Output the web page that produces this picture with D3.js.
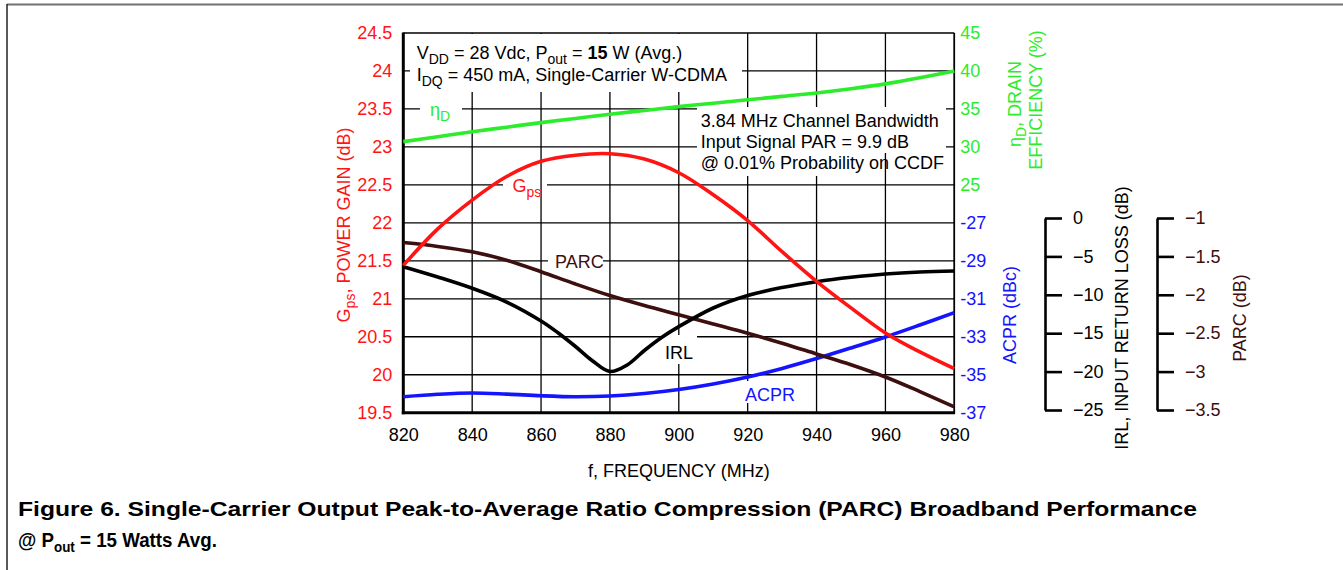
<!DOCTYPE html>
<html><head><meta charset="utf-8">
<script src="https://cdn.jsdelivr.net/npm/d3@7"></script>
<style>
body{margin:0;background:#fff;}
svg{display:block;}
</style></head><body>
<svg id="c" width="1343" height="570"></svg>
<script>
// ---------- data ----------
const freq = [820,830,840,850,860,870,880,890,900,910,920,930,940,950,960,970,980];
const gain = [21.44,21.92,22.30,22.61,22.81,22.89,22.91,22.84,22.66,22.37,22.03,21.62,21.23,20.88,20.55,20.30,20.08];
const eff  = [30.7,31.35,32.0,32.6,33.2,33.75,34.3,34.8,35.3,35.75,36.2,36.65,37.1,37.65,38.3,39.1,40.0];
const acpr = [-36.16,-36.03,-35.96,-36.02,-36.11,-36.16,-36.12,-35.99,-35.78,-35.49,-35.12,-34.67,-34.15,-33.59,-33.01,-32.38,-31.73];
const parc = [-1.32,-1.37,-1.44,-1.55,-1.70,-1.86,-2.01,-2.14,-2.26,-2.38,-2.50,-2.63,-2.77,-2.91,-3.07,-3.26,-3.46];
const irlFreq = [820,830,840,850,860,865,870,875,880,885,890,895,900,910,920,930,940,950,960,970,980];
const irl  = [-6.34,-7.68,-9.15,-10.94,-13.41,-14.97,-16.73,-18.62,-19.99,-19.14,-17.25,-15.56,-14.15,-11.72,-10.09,-9.05,-8.29,-7.72,-7.29,-7.03,-6.90];

const freqTicks = [820,840,860,880,900,920,940,960,980];
const gainTicks = [19.5,20,20.5,21,21.5,22,22.5,23,23.5,24,24.5];
const effTicks  = [25,30,35,40,45];
const acprTicks = [-37,-35,-33,-31,-29,-27];
const irlTicks  = [-25,-20,-15,-10,-5,0];
const parcTicks = [-3.5,-3,-2.5,-2,-1.5,-1];

// ---------- style ----------
const FONT = '"Liberation Sans", Arial, Helvetica, sans-serif';
const FS = 18;
const RED = "#ff1414", GREEN = "#2cec2c", BLUE = "#1414ff", BROWN = "#3d0f0f", BLACK = "#000";

const L = 403.3, R = 954.3, T = 33, B = 412.7;
const x    = d3.scaleLinear().domain([820,980]).range([L,R]);
const yG   = d3.scaleLinear().domain([19.5,24.5]).range([B,T]);
const yE   = d3.scaleLinear().domain([-5,45]).range([B,T]);
const yA   = d3.scaleLinear().domain([-37,-17]).range([B,T]);
const yI   = d3.scaleLinear().domain([-25,0]).range([410,218]);
const yP   = d3.scaleLinear().domain([-3.5,-1]).range([410,218]);

const svg = d3.select("#c").attr("font-family", FONT).attr("font-size", FS);

// frame
svg.append("line").attr("x1",7).attr("x2",1343).attr("y1",4.5).attr("y2",4.5).attr("stroke","#707070").attr("stroke-width",2);
svg.append("line").attr("x1",7).attr("x2",7).attr("y1",4).attr("y2",570).attr("stroke","#222").attr("stroke-width",1.5);

// horizontal grid
svg.append("g").selectAll("line").data(gainTicks).join("line")
  .attr("x1",L).attr("x2",R).attr("y1",d=>yG(d)).attr("y2",d=>yG(d))
  .attr("stroke",BLACK).attr("stroke-width",1.3);

// label gaps on horizontal lines only
const gapStrips = [[420,462,yG(23.5)],[503,547,yG(22.5)],[548,603,yG(21.5)]];
svg.append("g").selectAll("rect").data(gapStrips).join("rect")
  .attr("x",d=>d[0]).attr("width",d=>d[1]-d[0]).attr("y",d=>d[2]-3).attr("height",6).attr("fill","#fff");

// vertical grid
svg.append("g").selectAll("line").data(freqTicks).join("line")
  .attr("x1",d=>x(d)).attr("x2",d=>x(d)).attr("y1",T).attr("y2",B)
  .attr("stroke",BLACK).attr("stroke-width",1.3);

// full white boxes
const boxes = [[410,34,332,58],[697,107,249,69],[664,335,33,29],[743,381,54,22]];
svg.append("g").selectAll("rect").data(boxes).join("rect")
  .attr("x",d=>d[0]).attr("y",d=>d[1]).attr("width",d=>d[2]).attr("height",d=>d[3]).attr("fill","#fff");
// small piece of the 960 grid line visible in the box
svg.append("line").attr("x1",x(960)).attr("x2",x(960)).attr("y1",153).attr("y2",176).attr("stroke",BLACK).attr("stroke-width",1.3);

// plot borders
svg.append("line").attr("x1",R).attr("x2",R).attr("y1",T).attr("y2",B).attr("stroke",BLACK).attr("stroke-width",1.6);
svg.append("line").attr("x1",L).attr("x2",L).attr("y1",T-0.5).attr("y2",B+1.5).attr("stroke",BLACK).attr("stroke-width",3);
svg.append("line").attr("x1",L-1.5).attr("x2",R+0.8).attr("y1",B).attr("y2",B).attr("stroke",BLACK).attr("stroke-width",3);

// curves
function curve(xs, ys, yScale, color){
  const pts = xs.map((f,i)=>[f, ys[i]]);
  svg.append("path").datum(pts)
    .attr("d", d3.line().x(d=>x(d[0])).y(d=>yScale(d[1])).curve(d3.curveCatmullRom.alpha(0.5)))
    .attr("fill","none").attr("stroke",color).attr("stroke-width",3.6).attr("stroke-linejoin","round");
}
curve(freq, acpr, yA, BLUE);
curve(freq, parc, yP, BROWN);
curve(irlFreq, irl, yI, BLACK);
curve(freq, gain, yG, RED);
curve(freq, eff, yE, GREEN);

// axes
function styleAxis(g, color){
  g.select(".domain").remove();
  g.attr("font-family",FONT).attr("font-size",FS);
  g.selectAll("text").attr("fill",color);
}
svg.append("g").attr("transform",`translate(${L},0)`)
  .call(d3.axisLeft(yG).tickValues(gainTicks).tickSize(0).tickPadding(11).tickFormat(d=>String(d)))
  .call(g=>styleAxis(g,RED));
svg.append("g").attr("transform",`translate(0,${B})`)
  .call(d3.axisBottom(x).tickValues(freqTicks).tickSize(0).tickPadding(16).tickFormat(d=>String(d)))
  .call(g=>styleAxis(g,BLACK));
svg.append("g").attr("transform",`translate(${R},0)`)
  .call(d3.axisRight(yE).tickValues(effTicks).tickSize(0).tickPadding(6).tickFormat(d=>String(d)))
  .call(g=>styleAxis(g,GREEN));
svg.append("g").attr("transform",`translate(${R},0)`)
  .call(d3.axisRight(yA).tickValues(acprTicks).tickSize(0).tickPadding(6).tickFormat(d=>String(d)))
  .call(g=>styleAxis(g,BLUE));

function bracket(xpos, scale, ticks, color, fmt){
  const g = svg.append("g").attr("transform",`translate(${xpos},0)`)
    .call(d3.axisRight(scale).tickValues(ticks).tickSize(17).tickSizeOuter(0).tickPadding(11).tickFormat(fmt));
  g.attr("font-family",FONT).attr("font-size",FS);
  g.select(".domain").attr("stroke",BLACK).attr("stroke-width",2.6);
  g.selectAll(".tick line").attr("stroke",BLACK).attr("stroke-width",2.6);
  g.selectAll("text").attr("fill",color);
}
const minusFmt = d => d===0 ? "0" : "\u2212" + String(Math.abs(d));
bracket(1045, yI, irlTicks, BLACK, minusFmt);
bracket(1157, yP, parcTicks, BROWN, minusFmt);

// helper for text with subscripts: parts = [[text, kind]] kind: n / s / b
function rich(parent, parts, subSize){
  let shifted = false;
  parts.forEach(([t,k])=>{
    const ts = parent.append("tspan").text(t);
    if(k==="s"){ ts.attr("font-size",subSize||14).attr("dy", shifted?0:5); shifted = true; }
    else { if(shifted){ ts.attr("dy",-5); shifted=false; } if(k==="b") ts.attr("font-weight","bold"); }
  });
  return parent;
}

// annotation box 1
rich(svg.append("text").attr("x",416.7).attr("y",59.3).attr("fill",BLACK),
  [["V","n"],["DD","s"],[" = 28 Vdc, P","n"],["out","s"],[" = ","n"],["15","b"],[" W (Avg.)","n"]]);
rich(svg.append("text").attr("x",416.7).attr("y",81).attr("fill",BLACK),
  [["I","n"],["DQ","s"],[" = 450 mA, Single-Carrier W-CDMA","n"]]);

// annotation box 2
const box2Lines = ["3.84 MHz Channel Bandwidth","Input Signal PAR = 9.9 dB","@ 0.01% Probability on CCDF"];
svg.append("g").selectAll("text").data(box2Lines).join("text")
  .attr("x",700.7).attr("y",(d,i)=>126.7 + i*21.3).attr("fill",BLACK).text(d=>d);

// series labels
rich(svg.append("text").attr("x",430).attr("y",116).attr("fill",GREEN), [["\u03b7","n"],["D","s"]]);
rich(svg.append("text").attr("x",512.5).attr("y",191.7).attr("fill",RED), [["G","n"],["ps","s"]]);
svg.append("text").attr("x",555).attr("y",268.3).attr("fill",BROWN).text("PARC");
svg.append("text").attr("x",665).attr("y",359.3).attr("fill",BLACK).text("IRL");
svg.append("text").attr("x",745).attr("y",400.7).attr("fill",BLUE).text("ACPR");

// axis titles
function rotText(cx, cy, color){
  return svg.append("text").attr("transform",`translate(${cx},${cy}) rotate(-90)`)
    .attr("text-anchor","middle").attr("dy","0.35em").attr("fill",color);
}
rich(rotText(343.5, 225, RED), [["G","n"],["ps","s"],[", POWER GAIN (dB)","n"]]);
rich(rotText(1015, 104, GREEN), [["\u03b7","n"],["D","s"],[", DRAIN","n"]]);
rotText(1036, 100, GREEN).text("EFFICIENCY (%)");
rotText(1010, 315, BLUE).text("ACPR (dBc)");
rotText(1121.5, 318, BLACK).text("IRL, INPUT RETURN LOSS (dB)");
rotText(1240, 318, BROWN).text("PARC (dB)");
svg.append("text").attr("x",x(900)).attr("y",476.5).attr("text-anchor","middle").attr("fill",BLACK).text("f, FREQUENCY (MHz)");

// caption
svg.append("text").attr("x",18).attr("y",516).attr("font-weight","bold").attr("font-size",21)
  .attr("textLength",1179).attr("lengthAdjust","spacingAndGlyphs").attr("fill",BLACK)
  .text("Figure 6. Single-Carrier Output Peak-to-Average Ratio Compression (PARC) Broadband Performance");
const cap2 = svg.append("text").attr("font-weight","bold").attr("font-size",21).attr("fill",BLACK);
rich(cap2, [["@ P","b"],["out","s"],[" = 15 Watts Avg.","b"]], 15);
cap2.selectAll("tspan").attr("font-weight","bold");
const w2 = cap2.node().getComputedTextLength();
cap2.attr("transform",`translate(18,546.5) scale(${199/w2},1)`);
</script>
</body></html>
